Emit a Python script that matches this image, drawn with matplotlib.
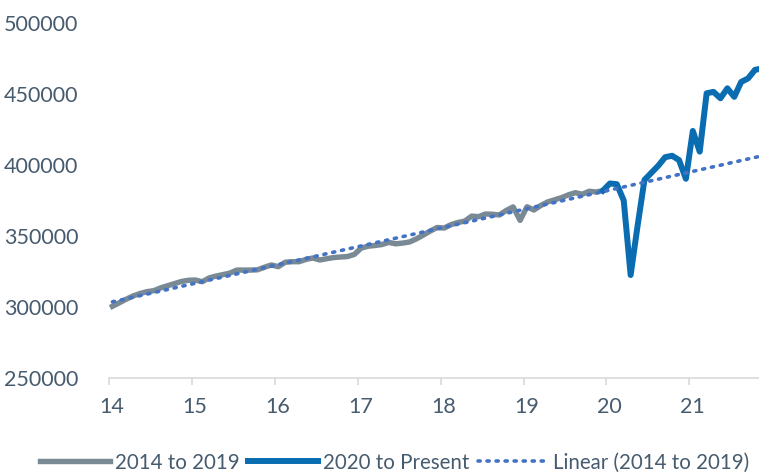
import matplotlib.pyplot as plt
import matplotlib.transforms as mtransforms
import numpy as np

plt.rcParams['font.family'] = ['Lato', 'DejaVu Sans']

# monthly values, Jan 2014 .. Dec 2019
sales_2014_2019 = [
    300500, 303000, 305500, 307800, 309500, 310800, 311500, 313500, 315000, 316500, 318000, 318800,
    319000, 317800, 320500, 321800, 322800, 323900, 326000, 326000, 326000, 326200, 328000, 329600,
    328400, 331500, 331900, 331900, 333500, 334500, 333100, 334000, 334800, 335200, 335500, 337000,
    341500, 342800, 343300, 344000, 345500, 344500, 345000, 345800, 348000, 350700, 353500, 356000,
    355600, 358000, 359500, 360500, 364000, 363600, 365500, 365300, 364800, 368000, 370500, 361000,
    370600, 368300, 371500, 374000, 375500, 377000, 379000, 380500, 379400, 381500, 381000, 382000,
]
# Dec 2019 .. Nov 2021
sales_2020_present = [
    382000, 387000, 386500, 375000, 322500, 357000, 389500, 394500, 399500, 405500, 406500, 403500,
    390300, 424000, 409400, 450500, 451500, 447000, 454000, 448000, 458500, 461000, 467000, 468000,
]
year_ticks = [14, 15, 16, 17, 18, 19, 20, 21]
labels = ['2014 to 2019', '2020 to Present', 'Linear (2014 to 2019)']

text_col = '#475B6E'
grey = '#7A8A94'
blue = '#0A6CB1'
trend_col = '#4472C4'

n1 = len(sales_2014_2019)
i1 = np.arange(n1)
i2 = np.arange(n1 - 1, n1 - 1 + len(sales_2020_present))
x1 = 14 + (i1 + 0.5) / 12
x2 = 14 + (i2 + 0.5) / 12

# linear trend fitted to the 2014-2019 series, extended to the end
coef = np.polyfit(x1, sales_2014_2019, 1)
xt = np.linspace(x1[0], x2[-1] + 0.1, 200)

fig = plt.figure(figsize=(7.59, 4.74), dpi=100)
ax = fig.add_axes([109 / 759, 1 - 378 / 474, 650 / 759, 355 / 474])

ax.plot(x1, sales_2014_2019, color=grey, lw=3.9, solid_joinstyle='round', label=labels[0], zorder=3)
ax.plot(x2, sales_2020_present, color=blue, lw=4.3, solid_joinstyle='round', label=labels[1], zorder=4)
ax.plot(xt, np.polyval(coef, xt), color=trend_col, lw=2.6, linestyle=(0, (0.6, 1.9)),
        dash_capstyle='round', label=labels[2], zorder=5)

ax.set_xlim(14, 21.84)
ax.set_ylim(250000, 500000)
ax.set_xticks(year_ticks)
ax.set_xticklabels([str(t) for t in year_ticks])
ax.set_yticks(np.arange(250000, 500001, 50000))

for s in ['top', 'right', 'left']:
    ax.spines[s].set_visible(False)
ax.spines['bottom'].set_color('#D9D9D9')
ax.spines['bottom'].set_linewidth(1.2)
ax.tick_params(axis='x', colors='#D9D9D9', length=5, width=1.2, pad=9,
               labelsize=15.5, labelcolor=text_col)
ax.tick_params(axis='y', length=0, pad=22, labelsize=15.5, labelcolor=text_col)

offset = mtransforms.ScaledTranslation(3 / 100, 0, fig.dpi_scale_trans)
for lab in ax.get_xticklabels():
    lab.set_transform(lab.get_transform() + offset)

fig.legend(loc='center', bbox_to_anchor=(0.52, 0.024), ncol=3, frameon=False,
           fontsize=14.8, labelcolor=text_col, handlelength=3.4, handletextpad=0.25,
           columnspacing=0.4, borderaxespad=0)

fig.savefig('out.png', dpi=100)
